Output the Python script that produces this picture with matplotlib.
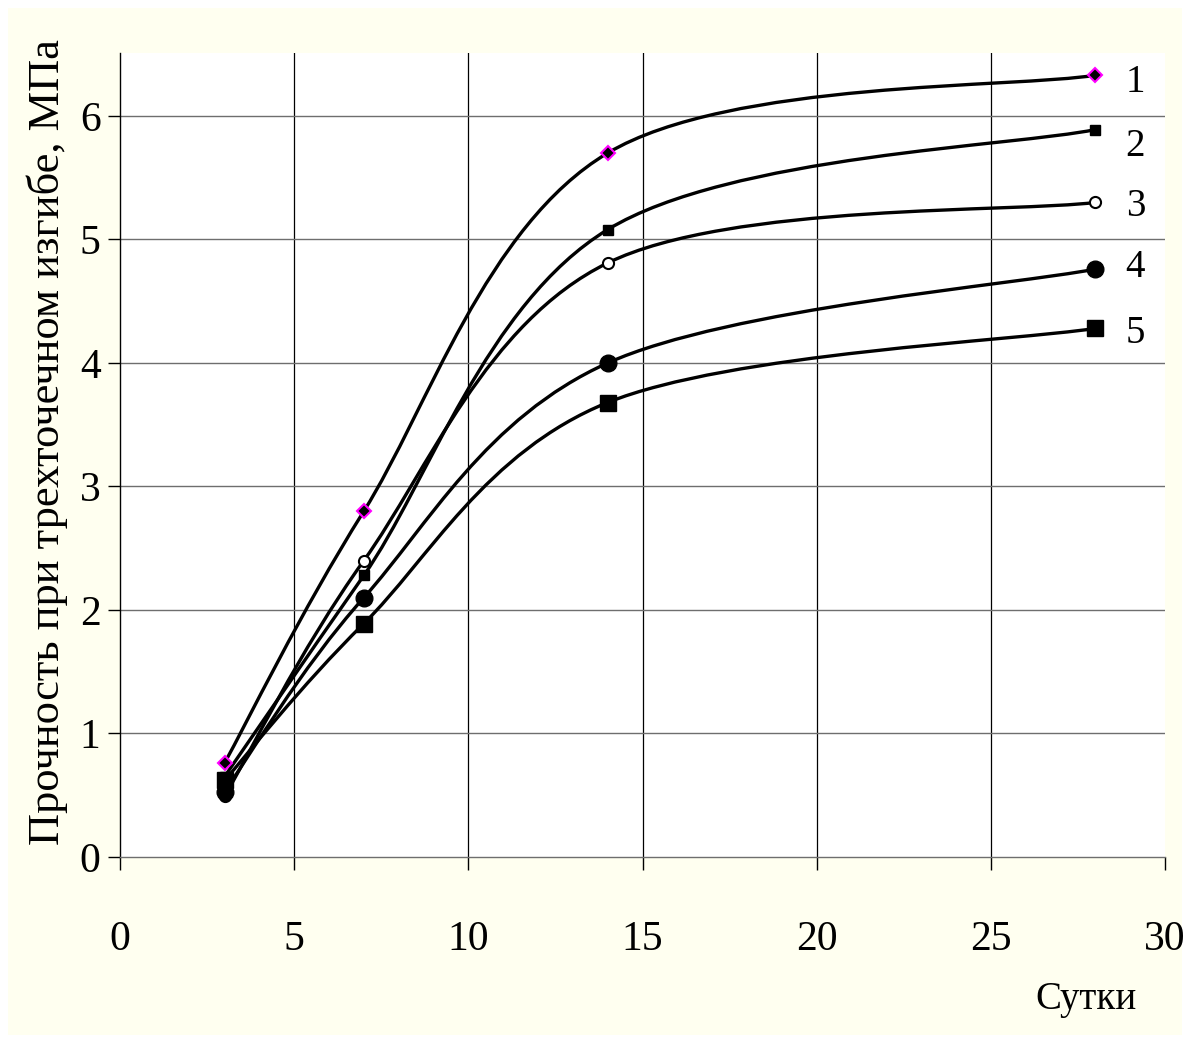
import matplotlib
matplotlib.use("Agg")
import matplotlib.pyplot as plt
from matplotlib.path import Path
from matplotlib.patches import PathPatch, Rectangle
import numpy as np

plt.rcParams['font.family'] = ['Liberation Serif', 'DejaVu Serif']

days = [3, 7, 14, 28]
curve1 = [0.76, 2.80, 5.70, 6.33]
curve2 = [0.65, 2.28, 5.08, 5.89]
curve3 = [0.49, 2.40, 4.81, 5.30]
curve4 = [0.53, 2.10, 4.00, 4.76]
curve5 = [0.62, 1.89, 3.68, 4.28]
labels = ['1', '2', '3', '4', '5']
label_y = [6.27, 5.75, 5.27, 4.77, 4.24]
xticks = [0, 5, 10, 15, 20, 25, 30]
yticks = [0, 1, 2, 3, 4, 5, 6]
ylabel = 'Прочность при трехточечном изгибе, МПа'
xlabel = 'Сутки'

W, H = 1190, 1043
fig = plt.figure(figsize=(W / 100, H / 100), dpi=100, facecolor='white')
fig.patches.append(Rectangle((8 / W, 8 / H), (W - 16) / W, (H - 16) / H,
                             transform=fig.transFigure, facecolor='#FFFFF0',
                             edgecolor='none', zorder=-10))
ax = fig.add_axes([120 / W, (H - 857) / H, (1165 - 120) / W, (857 - 53) / H])
ax.set_zorder(1)
ax.set_facecolor('white')
ax.set_xlim(0, 30)
ax.set_ylim(0, 6.51)


def smooth_path(xs, ys):
    pts = np.column_stack([xs, ys]).astype(float)
    n = len(pts)
    verts = [pts[0]]
    codes = [Path.MOVETO]
    for i in range(n - 1):
        p0 = pts[i - 1] if i > 0 else pts[i]
        p1 = pts[i]
        p2 = pts[i + 1]
        p3 = pts[i + 2] if i + 2 < n else pts[i + 1]
        c1 = p1 + (p2 - p0) / 6.0
        c2 = p2 - (p3 - p1) / 6.0
        verts += [c1, c2, p2]
        codes += [Path.CURVE4] * 3
    return Path(verts, codes)


series = [
    (curve1, dict(marker='D', markersize=7, markerfacecolor='black',
                  markeredgecolor='#FF00FF', markeredgewidth=1.5)),
    (curve2, dict(marker='s', markersize=7, markerfacecolor='black',
                  markeredgecolor='black')),
    (curve3, dict(marker='o', markersize=8, markerfacecolor='white',
                  markeredgecolor='black', markeredgewidth=1.5)),
    (curve4, dict(marker='o', markersize=12, markerfacecolor='black',
                  markeredgecolor='black')),
    (curve5, dict(marker='s', markersize=11, markerfacecolor='black',
                  markeredgecolor='black')),
]

for vals, mk in series:
    ax.add_patch(PathPatch(smooth_path(days, vals), facecolor='none',
                           edgecolor='black', linewidth=2.4, zorder=3,
                           capstyle='round', joinstyle='round'))
for vals, mk in series:
    ax.plot(days, vals, linestyle='none', zorder=4, **mk)

for lab, yy in zip(labels, label_y):
    ax.text(29.15, yy, lab, fontsize=28, ha='center', va='center', zorder=5)

ax.set_xticks(xticks)
ax.set_yticks(yticks)
ax.set_xticklabels([str(t) for t in xticks])
ax.set_yticklabels([str(t) for t in yticks])
for t in xticks[1:-1]:
    ax.axvline(t, color='black', linewidth=0.9, zorder=1)
for t in yticks[1:]:
    ax.axhline(t, color='#6e6e6e', linewidth=1.0, zorder=1)

for s in ['top', 'right']:
    ax.spines[s].set_visible(False)
ax.spines['bottom'].set_color('#6e6e6e')
ax.spines['bottom'].set_linewidth(1.0)
ax.spines['left'].set_color('black')
ax.spines['left'].set_linewidth(1.0)
ax.tick_params(axis='x', direction='out', length=9.5, width=1.0, color='black',
               labelsize=30, pad=36)
ax.tick_params(axis='y', direction='out', length=9, width=1.0, color='black',
               labelsize=30, pad=5)

fig.text(47 / W, (H - 442) / H, ylabel, rotation=90, fontsize=32,
         ha='center', va='center')
fig.text(1086 / W, (H - 1000) / H, xlabel, fontsize=28, ha='center', va='center')

fig.savefig('out.png', dpi=100, facecolor=fig.get_facecolor())
